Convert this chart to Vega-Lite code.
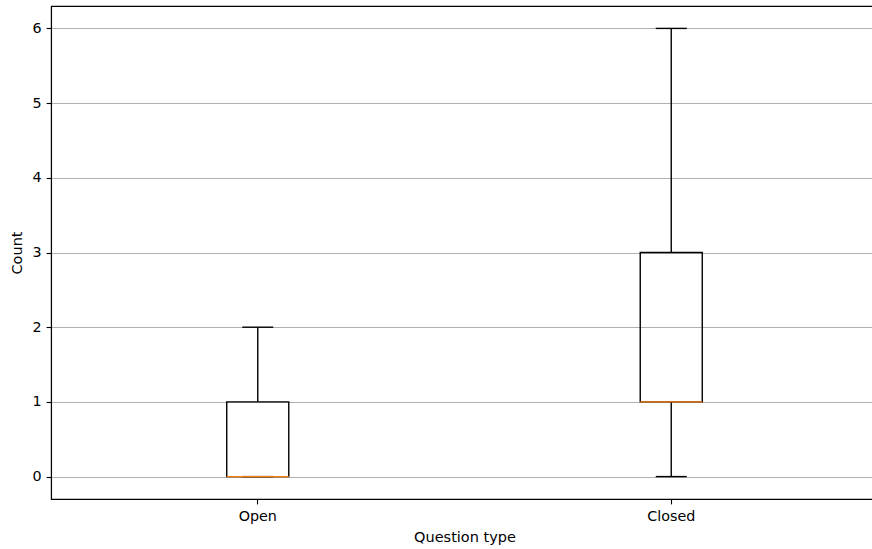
{
  "$schema": "https://vega.github.io/schema/vega-lite/v6.json",
  "width": 827,
  "height": 493,
  "autosize": {"type": "none"},
  "padding": {"left": 51, "top": 6, "right": 0, "bottom": 50},
  "background": "white",
  "config": {
    "font": "DejaVu Sans",
    "view": {"stroke": "black", "strokeWidth": 1.1},
    "axis": {
      "labelFont": "DejaVu Sans",
      "titleFont": "DejaVu Sans",
      "labelFontSize": 14.3,
      "titleFontSize": 14.5,
      "labelColor": "black",
      "titleColor": "black",
      "titleFontWeight": "normal",
      "domainColor": "black",
      "domainWidth": 1.1,
      "tickColor": "black",
      "tickWidth": 1.1,
      "tickSize": 4.9,
      "labelPadding": 5,
      "gridColor": "#b0b0b0",
      "gridWidth": 1.1,
      "gridOpacity": 1
    }
  },
  "data": {
    "values": [
      {"type": "Open", "lo": 0, "q1": 0, "med": 0, "q3": 1, "hi": 2},
      {"type": "Closed", "lo": 0, "q1": 1, "med": 1, "q3": 3, "hi": 6}
    ]
  },
  "encoding": {
    "x": {
      "field": "type",
      "type": "nominal",
      "sort": ["Open", "Closed"],
      "scale": {"paddingInner": 0, "paddingOuter": 0},
      "axis": {"title": "Question type", "labelAngle": 0, "grid": false, "titlePadding": 6, "labelPadding": 6}
    }
  },
  "layer": [
    {
      "mark": {"type": "rule", "color": "black", "strokeWidth": 1.4},
      "encoding": {
        "y": {
          "field": "lo",
          "type": "quantitative",
          "scale": {"domain": [-0.3, 6.3], "nice": false, "zero": false},
          "axis": {"title": "Count", "values": [0, 1, 2, 3, 4, 5, 6], "grid": true, "titlePadding": 8, "format": "d"}
        },
        "y2": {"field": "q1"}
      }
    },
    {
      "mark": {"type": "rule", "color": "black", "strokeWidth": 1.4},
      "encoding": {
        "y": {"field": "q3", "type": "quantitative"},
        "y2": {"field": "hi"}
      }
    },
    {
      "mark": {"type": "bar", "width": {"band": 0.15}, "fill": "transparent", "stroke": "black", "strokeWidth": 1.4},
      "encoding": {
        "y": {"field": "q1", "type": "quantitative"},
        "y2": {"field": "q3"}
      }
    },
    {
      "mark": {"type": "tick", "color": "black", "size": 31, "thickness": 1.4, "opacity": 1},
      "encoding": {"y": {"field": "lo", "type": "quantitative"}}
    },
    {
      "mark": {"type": "tick", "color": "black", "size": 31, "thickness": 1.4, "opacity": 1},
      "encoding": {"y": {"field": "hi", "type": "quantitative"}}
    },
    {
      "mark": {"type": "tick", "color": "#ff7f0e", "size": 62, "thickness": 1.4, "opacity": 1},
      "encoding": {"y": {"field": "med", "type": "quantitative"}}
    }
  ]
}
